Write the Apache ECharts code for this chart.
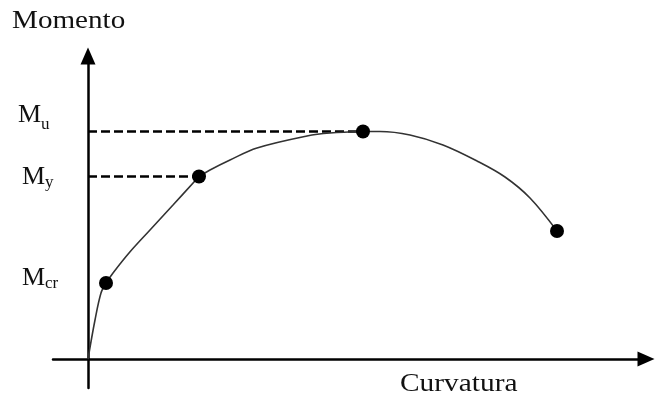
<!DOCTYPE html>
<html>
<head>
<meta charset="utf-8">
<script src="https://cdn.jsdelivr.net/npm/echarts@6/dist/echarts.min.js"></script>
<style>
html,body{margin:0;padding:0;background:#fff;}
#chart{width:655px;height:405px;}
</style>
</head>
<body>
<div id="chart"></div>
<script>
// Moment–curvature curve (schematic units)
const curveCurvature = [0, 1.4, 2.6, 3.6, 5, 8.2, 12.4, 17, 22.2, 24.4, 28.4, 33.8, 43.8, 48.4, 55, 58.4, 64.4, 71, 77.8, 83.4, 88.4, 93.8];
const curveMoment    = [0, 7.8, 13.2, 15.2, 17.2, 21.2, 25.8, 30.8, 36.5, 37.8, 39.8, 42.2, 44.6, 45.2, 45.5, 45.5, 44.8, 42.8, 39.6, 36.4, 32.2, 25.6];
// key points: cracking, yield, ultimate, final
const keyNames     = ['Mcr', 'My', 'Mu', 'end'];
const keyCurvature = [3.6, 22.2, 55, 93.8];
const keyMoment    = [15.2, 36.5, 45.5, 25.6];
// dashed guide lines go to these key points
const dashedKeys = ['My', 'Mu'];
const xAxisName = 'Curvatura';
const yAxisName = 'Momento';

const chart = echarts.init(document.getElementById('chart'), null, {renderer: 'canvas'});
const font = '"Liberation Serif", "Times New Roman", serif';

const curveData = curveCurvature.map((x, i) => [x, curveMoment[i]]);
const keyData = keyCurvature.map((x, i) => [x, keyMoment[i]]);

// split curve into branches that meet (with a corner) at the key points
const breakIdx = keyCurvature.map(k => curveCurvature.indexOf(k));
const branches = [];
let start = 0;
breakIdx.forEach(b => {
  if (b > start) { branches.push(curveData.slice(start, b + 1)); start = b; }
});

const branchSeries = branches.map(d => ({
  type: 'line',
  data: d,
  smooth: 0.35,
  symbol: 'none',
  silent: true,
  z: 3,
  lineStyle: {color: '#333', width: 1.6}
}));

const dashedSeries = dashedKeys.map(name => {
  const i = keyNames.indexOf(name);
  return {
    type: 'line',
    data: [[0, keyMoment[i]], [keyCurvature[i], keyMoment[i]]],
    symbol: 'none',
    silent: true,
    z: 2,
    lineStyle: {color: '#000', width: 2.5, type: [9, 4]}
  };
});

const axisCommon = {
  type: 'value',
  splitLine: {show: false},
  axisTick: {show: false},
  axisLabel: {show: false},
  axisLine: {
    show: true,
    onZero: true,
    symbol: ['none', 'triangle'],
    symbolSize: [15, 17],
    lineStyle: {color: '#000', width: 2.5}
  }
};

function txt(text, x, y, size, sx) {
  return {
    type: 'text',
    x: x, y: y,
    scaleX: sx || 1,
    style: {text: text, font: size + 'px ' + font, fill: '#111', verticalAlign: 'top', align: 'left'}
  };
}

chart.setOption({
  animation: false,
  backgroundColor: '#fff',
  grid: {left: 53, right: 9, top: 56, bottom: 17, containLabel: false},
  xAxis: Object.assign({}, axisCommon, {min: -7, max: 111.6}),
  yAxis: Object.assign({}, axisCommon, {min: -5.8, max: 60.6}),
  graphic: [
    txt(yAxisName, 12, 8, 26, 1.12),
    txt(xAxisName, 400, 371, 26, 1.13),
    txt('M', 18, 102, 26), txt('u', 41, 116, 17),
    txt('M', 22, 164, 26), txt('y', 45, 174, 17),
    txt('M', 22, 265, 26), txt('cr', 45, 275, 17)
  ],
  series: [
    ...dashedSeries,
    ...branchSeries,
    {
      type: 'scatter',
      data: keyData,
      symbol: 'circle',
      symbolSize: 14,
      z: 5,
      itemStyle: {color: '#000', opacity: 1}
    }
  ]
});
</script>
</body>
</html>
